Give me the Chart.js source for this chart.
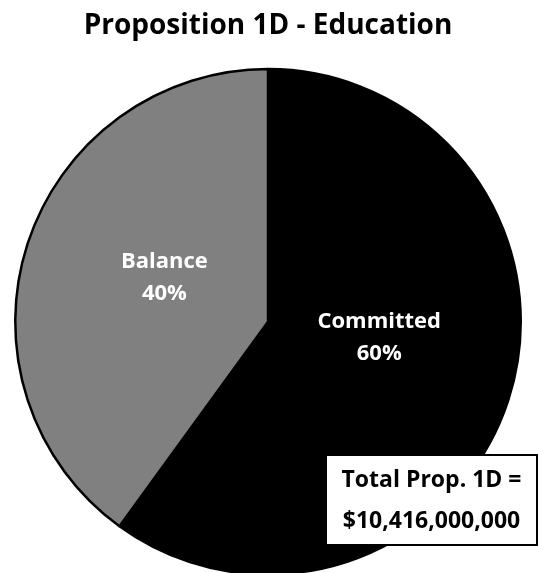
<!DOCTYPE html>
<html>
<head>
<meta charset="utf-8">
<script src="https://cdn.jsdelivr.net/npm/chart.js@4.4.1/dist/chart.umd.min.js"></script>
<style>
  html, body { margin: 0; padding: 0; background: #fff; overflow: hidden; }
  #wrap { position: relative; width: 541px; height: 600px; }
</style>
</head>
<body>
<div id="wrap"><canvas id="chartPie"></canvas></div>
<script>
// data
const categories = ["Committed", "Balance"];
const shares = [60, 40];
const sliceColors = ["#000000", "#808080"];
const totalLines = ["Total Prop. 1D =", "$10,416,000,000"];
const titleText = "Proposition 1D - Education";

const FONT = "'Open Sans', 'DejaVu Sans', sans-serif";

// label offsets from the pie centre (as a share of the radius)
const labelOffsets = [[0.44, 0.06], [-0.41, -0.18]];

const sliceLabels = {
  id: "sliceLabels",
  afterDatasetsDraw(chart) {
    const ctx = chart.ctx;
    const arcs = chart.getDatasetMeta(0).data;
    ctx.save();
    ctx.fillStyle = "#fff";
    ctx.font = "bold 22px " + FONT;
    ctx.textAlign = "center";
    ctx.textBaseline = "middle";
    arcs.forEach((arc, i) => {
      const x = arc.x + labelOffsets[i][0] * arc.outerRadius;
      const y = arc.y + labelOffsets[i][1] * arc.outerRadius;
      ctx.fillText(categories[i], x, y - 15);
      ctx.fillText(shares[i] + "%", x, y + 17);
    });
    ctx.restore();
  }
};

const totalBox = {
  id: "totalBox",
  afterDraw(chart) {
    const ctx = chart.ctx;
    const x = 326, y = 455, w = 211, h = 90;
    ctx.save();
    ctx.fillStyle = "#fff";
    ctx.strokeStyle = "#000";
    ctx.lineWidth = 2;
    ctx.fillRect(x, y, w, h);
    ctx.strokeRect(x, y, w, h);
    ctx.fillStyle = "#000";
    ctx.font = "bold 23px " + FONT;
    ctx.textAlign = "center";
    ctx.textBaseline = "middle";
    ctx.fillText(totalLines[0], x + w / 2, y + 25, w - 10);
    ctx.fillText(totalLines[1], x + w / 2, y + 66, w - 10);
    ctx.restore();
  }
};

new Chart(document.getElementById("chartPie"), {
  type: "pie",
  data: {
    labels: categories,
    datasets: [{
      data: shares,
      backgroundColor: sliceColors,
      borderColor: "#000",
      borderWidth: 2.5
    }]
  },
  options: {
    responsive: true,
    maintainAspectRatio: false,
    animation: false,
    layout: { padding: { left: 14, right: 19, top: 0, bottom: 9 } },
    plugins: {
      legend: { display: false },
      tooltip: { enabled: false },
      title: {
        display: true,
        text: titleText,
        color: "#000",
        font: { family: FONT, size: 28, weight: "bold" },
        padding: { top: 9, bottom: 10 }
      }
    }
  },
  plugins: [sliceLabels, totalBox]
});
</script>
</body>
</html>
